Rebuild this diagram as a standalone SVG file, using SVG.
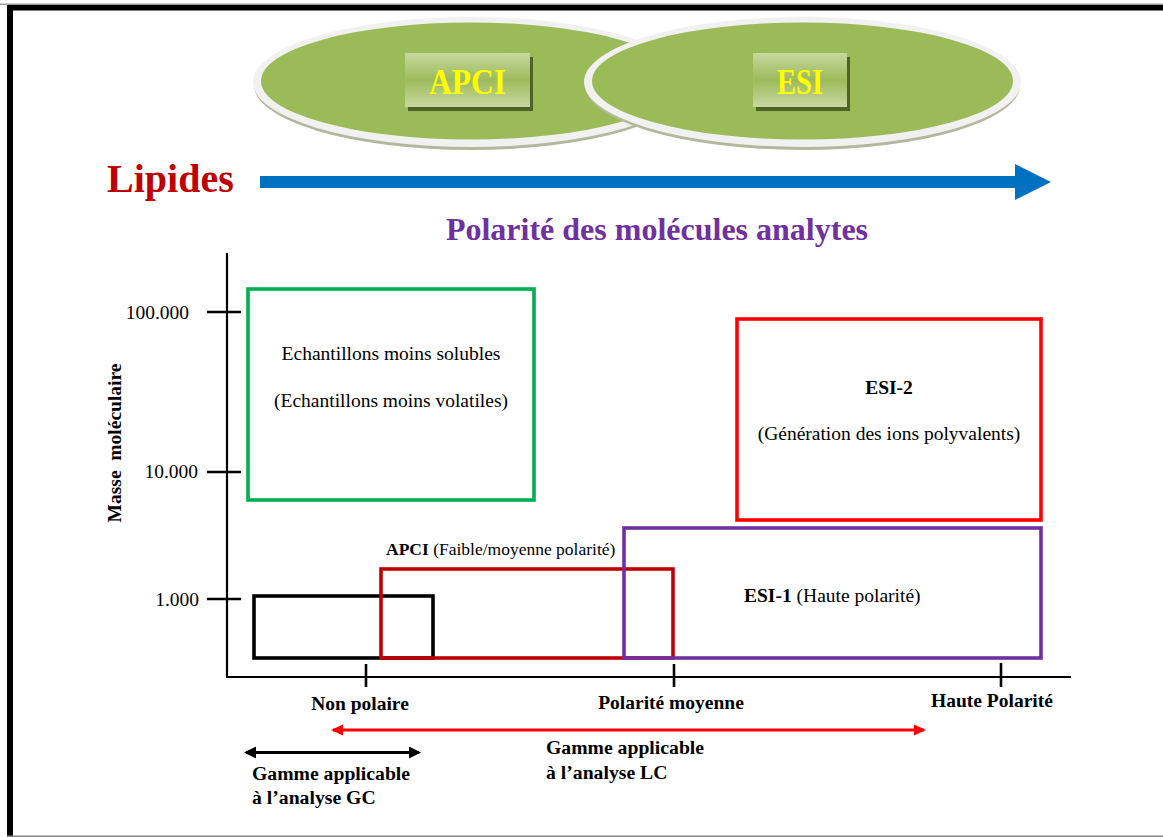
<svg xmlns="http://www.w3.org/2000/svg" width="1163" height="837" viewBox="0 0 1163 837">
<style>
text{font-family:"Liberation Serif","Times New Roman",serif;fill:#000}
.b{font-weight:bold}
.lbl{font-size:19.5px}
.lab{font-size:19.5px;font-weight:bold}
.gam{font-size:19.7px;font-weight:bold}
.box{fill:none;stroke-width:3.6}
.ax{stroke:#000;stroke-width:2.2;fill:none}
.tk{stroke:#000;stroke-width:2.6;fill:none}
.badge{font-size:35px;font-weight:bold;fill:#ffff00}
</style>
<defs>
<linearGradient id="gb" x1="0" y1="0" x2="0" y2="1">
<stop offset="0" stop-color="#c7d9a1"/>
<stop offset="0.15" stop-color="#b9cf8a"/>
<stop offset="0.5" stop-color="#9dbb5b"/>
<stop offset="0.85" stop-color="#b9cf8a"/>
<stop offset="1" stop-color="#c7d9a1"/>
</linearGradient>
<marker id="ahr" viewBox="0 0 12 12" refX="10" refY="6" markerWidth="12" markerHeight="12" markerUnits="userSpaceOnUse" orient="auto-start-reverse">
<path d="M0,0.5 L12,6 L0,11.5 Z" fill="#ff0000"/>
</marker>
<marker id="ahk" viewBox="0 0 12 12" refX="10" refY="6" markerWidth="12" markerHeight="12" markerUnits="userSpaceOnUse" orient="auto-start-reverse">
<path d="M0,0 L12,6 L0,12 Z" fill="#000"/>
</marker>
</defs>
<rect width="1163" height="837" fill="#fff"/>
<g id="frame">
<rect x="0" y="3.6" width="1163" height="1.2" fill="#888"/>
<rect x="7" y="5" width="1156" height="5.5" fill="#000"/>
<rect x="7" y="5" width="6" height="832" fill="#000"/>
<rect x="7" y="835.5" width="1156" height="1.5" fill="#888"/>
</g>
<g id="apci-ellipse">
<ellipse cx="471" cy="85" rx="217" ry="65" fill="#b3b89c"/>
<ellipse cx="471" cy="82" rx="218" ry="65" fill="#f1f1f1"/>
<ellipse cx="471" cy="81" rx="210" ry="58.5" fill="#9bbb59"/>
<rect x="408" y="57" width="125" height="54" fill="#4f6228"/>
<rect x="405" y="53" width="125" height="54" fill="url(#gb)"/>
<text class="badge" x="467.5" y="94" text-anchor="middle" textLength="77" lengthAdjust="spacingAndGlyphs">APCI</text>
</g>
<g id="esi-ellipse">
<ellipse cx="802.5" cy="85" rx="217.5" ry="65" fill="#b3b89c"/>
<ellipse cx="802.5" cy="82" rx="218.5" ry="65" fill="#f1f1f1"/>
<ellipse cx="802.5" cy="81" rx="210.5" ry="58.5" fill="#9bbb59"/>
<rect x="756" y="57" width="94" height="54" fill="#4f6228"/>
<rect x="753" y="53" width="94" height="54" fill="url(#gb)"/>
<text class="badge" x="800" y="94" text-anchor="middle" textLength="46" lengthAdjust="spacingAndGlyphs">ESI</text>
</g>
<g id="polarity-arrow">
<text x="107" y="192" font-size="40" font-weight="bold" style="fill:#c00000">Lipides</text>
<polygon points="260,176 1015,176 1015,164 1051,182 1015,200 1015,188 260,188" fill="#0070c0"/>
<text x="657" y="240" font-size="32" font-weight="bold" text-anchor="middle" style="fill:#7030a0">Polarité des molécules analytes</text>
</g>
<g id="axes">
<line class="ax" x1="227" y1="253" x2="227" y2="677"/>
<line class="ax" x1="226" y1="677" x2="1071" y2="677"/>
<line class="tk" x1="207" y1="312" x2="241" y2="312"/>
<line class="tk" x1="207" y1="472" x2="241" y2="472"/>
<line class="tk" x1="207" y1="599" x2="241" y2="599"/>
<line class="tk" x1="366" y1="664" x2="366" y2="687"/>
<line class="tk" x1="674" y1="664" x2="674" y2="687"/>
<line class="tk" x1="1001" y1="663" x2="1001" y2="687"/>
<text class="lbl" x="189" y="319" text-anchor="end">100.000</text>
<text class="lbl" x="198" y="478" text-anchor="end">10.000</text>
<text class="lbl" x="199" y="606" text-anchor="end">1.000</text>
<text class="lab" transform="translate(121 443) rotate(-90)" text-anchor="middle" style="white-space:pre">Masse  moléculaire</text>
<text class="lab" x="360" y="710" text-anchor="middle">Non polaire</text>
<text class="lab" x="671" y="709" text-anchor="middle">Polarité moyenne</text>
<text class="lab" x="992" y="707" text-anchor="middle">Haute Polarité</text>
</g>
<g id="gc-box">
<rect class="box" x="254" y="596" width="179" height="62" stroke="#000"/>
</g>
<g id="apci-box">
<rect class="box" x="381" y="569" width="292" height="89" stroke="#c00000"/>
<text x="386" y="555" font-size="17.5"><tspan class="b">APCI</tspan> (Faible/moyenne polarité)</text>
</g>
<g id="esi1-box">
<rect class="box" x="624" y="528" width="417" height="130" stroke="#7030a0"/>
<text class="lbl" x="744" y="602"><tspan class="b">ESI-1</tspan> (Haute polarité)</text>
</g>
<g id="esi2-box">
<rect class="box" x="737" y="319" width="304" height="201" stroke="#ff0000"/>
<text class="lab" x="889" y="394" text-anchor="middle">ESI-2</text>
<text class="lbl" x="889" y="440" text-anchor="middle">(Génération des ions polyvalents)</text>
</g>
<g id="insoluble-box">
<rect class="box" x="248" y="289" width="286" height="211" stroke="#00b050"/>
<text class="lbl" x="391" y="360" text-anchor="middle">Echantillons moins solubles</text>
<text class="lbl" x="391" y="407" text-anchor="middle">(Echantillons moins volatiles)</text>
</g>
<g id="connectors">
<line x1="333" y1="730" x2="924" y2="730" stroke="#ff0000" stroke-width="3" marker-start="url(#ahr)" marker-end="url(#ahr)"/>
<line x1="246" y1="752.5" x2="419" y2="752.5" stroke="#000" stroke-width="3" marker-start="url(#ahk)" marker-end="url(#ahk)"/>
</g>
<g id="lc-label">
<text class="gam" x="546" y="754">Gamme applicable</text>
<text class="gam" x="546" y="779">à l’analyse LC</text>
</g>
<g id="gc-label">
<text class="gam" x="252" y="780">Gamme applicable</text>
<text class="gam" x="252" y="804">à l’analyse GC</text>
</g>
</svg>
